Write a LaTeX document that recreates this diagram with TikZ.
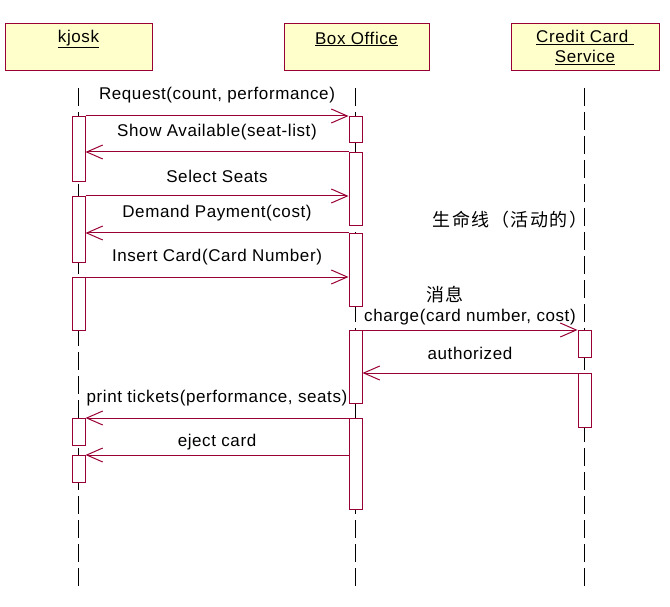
\documentclass[tikz,border=0pt]{standalone}
\usepackage{fontspec}
\setmainfont[LetterSpace=3.5]{Liberation Sans}
\newfontfamily\cjk[LetterSpace=8]{Noto Sans CJK SC}
\usetikzlibrary{arrows.meta}
\definecolor{umlred}{RGB}{153,0,51}
\definecolor{umlfill}{RGB}{255,255,204}
\begin{document}
\begin{tikzpicture}[x=1pt,y=-1pt,
  font=\fontsize{17}{20}\selectfont,
  header/.style={draw=umlred, fill=umlfill, line width=1pt, minimum width=#1, minimum height=47pt, inner sep=0pt},
  title/.style={inner sep=0pt, align=center},
  lifeline/.style={draw=black, line width=1pt, dash pattern=on 18pt off 6pt},
  act/.style={draw=umlred, fill=white, line width=1pt, minimum width=13pt, minimum height=#1, inner sep=0pt, anchor=north},
  msg/.style={draw=umlred, line width=1pt, -{Straight Barb[length=16pt,width=14pt,line width=1pt]}},
  msglabel/.style={inner sep=0pt, text=black},
  note/.style={inner sep=0pt, font=\fontsize{18}{20}\cjk}
]
\useasboundingbox (0,0) rectangle (670,607);

% header boxes
\node[header=147pt] (kbox) at (78.5,47.5) {};
\node[header=145pt] (bbox) at (356.5,47.5) {};
\node[header=148pt] (cbox) at (585,47.5) {};
\node[title] (ktitle) at (78.5,39) {\underline{kjosk}};
\node[title] (btitle) at (356.5,39) {\underline{Box Office}};
\node[title, anchor=north] (ctitle) at (585,30) {\underline{Credit Card\ }\\\underline{Service}};

% lifelines
\coordinate (ktop) at (78.5,88);
\coordinate (kbot) at (78.5,588);
\coordinate (btop) at (355.5,88);
\coordinate (bbot) at (355.5,588);
\coordinate (ctop) at (584.5,88);
\coordinate (cbot) at (584.5,588);
\draw[lifeline] (ktop) -- (kbot);
\draw[lifeline] (btop) -- (bbot);
\draw[lifeline] (ctop) -- (cbot);

% activations kjosk
\node[act=65pt] (k1) at (78.5,116) {};
\node[act=66pt] (k2) at (78.5,196) {};
\node[act=53pt] (k3) at (78.5,277) {};
\node[act=27pt] (k4) at (78.5,418) {};
\node[act=27pt] (k5) at (78.5,455) {};
% activations box office
\node[act=26pt] (b1) at (355.5,116) {};
\node[act=73pt] (b2) at (355.5,152) {};
\node[act=73pt] (b3) at (355.5,233) {};
\node[act=73pt] (b4) at (355.5,330) {};
\node[act=91pt] (b5) at (355.5,418) {};
% activations credit card
\node[act=27pt] (c1) at (584.5,330) {};
\node[act=54pt] (c2) at (584.5,373) {};

% messages
\draw[msg] (k1.north east) -- node[msglabel, midway, yshift=21pt] {Request(count, performance)} (b1.north west);
\draw[msg] (b2.north west) -- node[msglabel, midway, yshift=20pt] {Show Available(seat-list)} (b2.north west -| k1.east);
\draw[msg] (k2.north east) -- node[msglabel, midway, yshift=20pt] {Select Seats} (k2.north east -| b2.west);
\draw[msg] (b3.north west) -- node[msglabel, midway, yshift=20pt] {Demand Payment(cost)} (b3.north west -| k2.east);
\draw[msg] (k3.north east) -- node[msglabel, midway, yshift=20pt] {Insert Card(Card Number)} (k3.north east -| b3.west);
\draw[msg] (b4.north east) -- node[msglabel, midway, yshift=13pt] {charge(card number, cost)} (c1.north west);
\draw[msg] (c2.north west) -- node[msglabel, midway, yshift=20pt] {authorized} (c2.north west -| b4.east);
\draw[msg] (b5.north west) -- node[msglabel, midway, yshift=20pt] {print tickets(performance, seats)} (k4.north east);
\draw[msg] (b5.west |- k5.north) -- node[msglabel, midway, yshift=13pt] {eject card} (k5.north east);

% annotations
\node[note] (note1) at (510,220) {生命线（活动的）};
\node[note] (note2) at (445,295) {消息};
\end{tikzpicture}
\end{document}
